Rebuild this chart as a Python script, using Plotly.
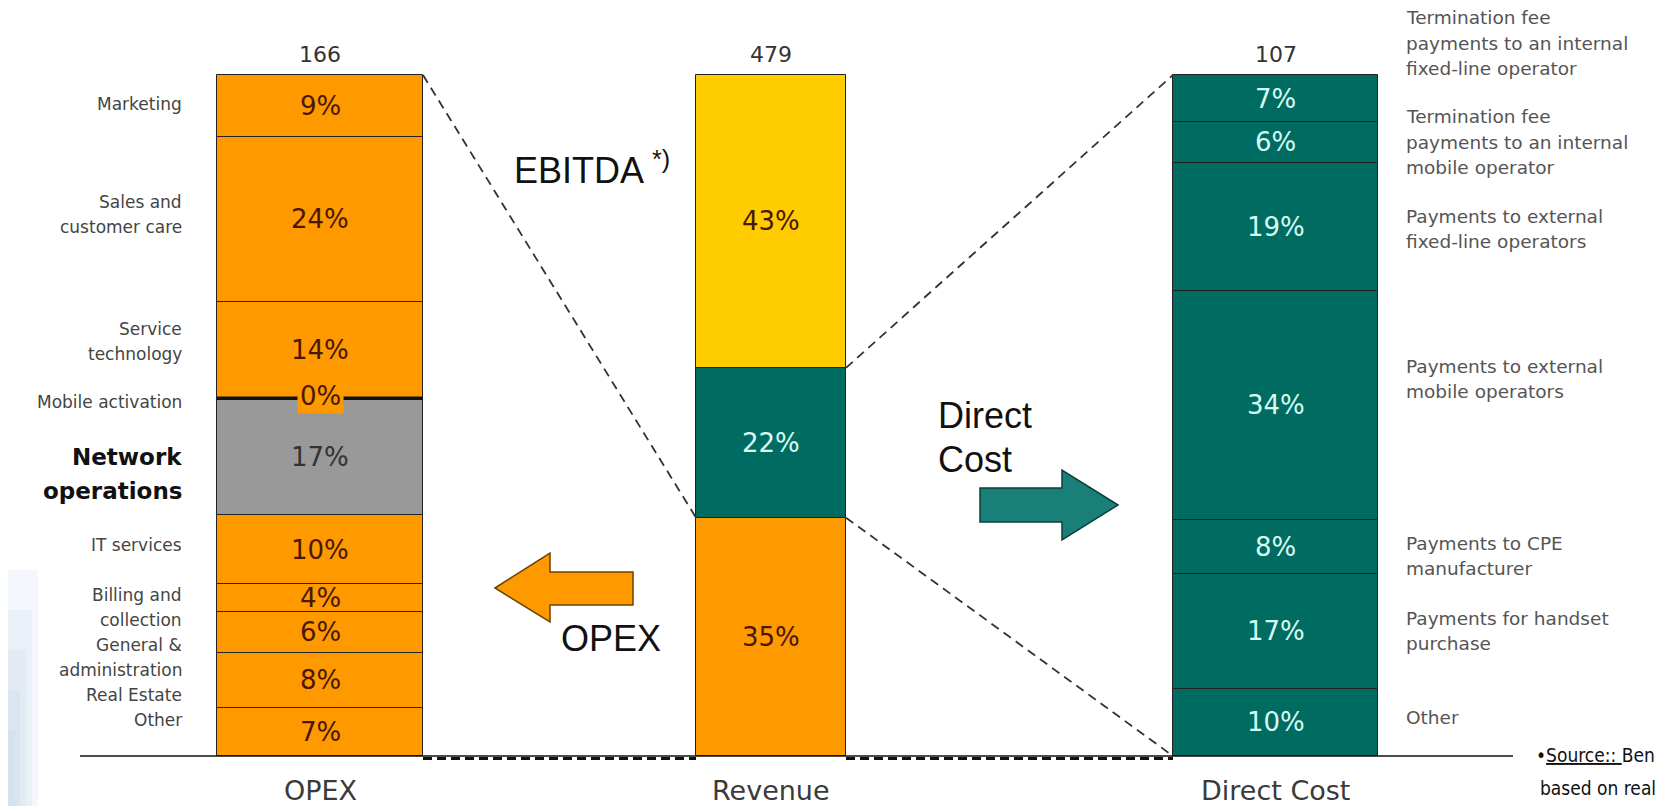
import plotly.graph_objects as go

# ---------------- data ----------------
categories = ["OPEX", "Revenue", "Direct Cost"]
totals = [166, 479, 107]

opex_items = ["Marketing", "Sales and<br>customer care", "Service<br>technology", "Mobile activation",
              "Network<br>operations", "IT services", "Billing and<br>collection",
              "General &<br>administration", "Real Estate", "Other"]
opex_pct = [9, 24, 14, 0, 17, 10, 4, 6, 8, 7]

revenue_items = ["EBITDA", "Direct Cost", "OPEX"]
revenue_pct = [43, 22, 35]

direct_items = ["Termination fee<br>payments to an internal<br>fixed-line operator",
                "Termination fee<br>payments to an internal<br>mobile operator",
                "Payments to external<br>fixed-line operators",
                "Payments to external<br>mobile operators",
                "Payments to CPE<br>manufacturer",
                "Payments for handset<br>purchase",
                "Other"]
direct_pct = [7, 6, 19, 34, 8, 17, 10]

# ---------------- style / layout ----------------
W, H = 1673, 806
OFF = 8                                  # page body margin of the html page
PX_TOP, PX_BASE = 75, 756
K = (PX_BASE - PX_TOP) / 100.0          # pixels per percent
BAR_X = {"OPEX": 320, "Revenue": 771, "Direct Cost": 1275.5}
BAR_W = {"OPEX": 206, "Revenue": 150, "Direct Cost": 205}

ORANGE = "#FF9900"
YELLOW = "#FFCC00"
TEAL = "#006B60"
GRAY = "#999999"
TXT_DARK = "#4a1800"
TXT_LIGHT = "#d6fbf4"

opex_colors = [ORANGE, ORANGE, ORANGE, ORANGE, GRAY, ORANGE, ORANGE, ORANGE, ORANGE, ORANGE]
revenue_colors = [YELLOW, TEAL, ORANGE]
direct_colors = [TEAL] * 7

# label placement (pixel y of first line)
opex_label_y = [104, 202, 329, 402, 457, 545, 595, 645, 695, 720]
direct_label_y = [18, 117, 217, 366, 543, 618, 717]

FONT = "DejaVu Sans, Verdana, sans-serif"
BIG = "Liberation Sans, Arial, sans-serif"


def Y(p):
    return (PX_BASE - p) / K


def px(x):
    return (x - OFF) / (W - OFF)


def py(y):
    return 1 - (y - OFF) / (H - OFF)


def segments(pcts):
    """return (share, bottom, top) per item, items listed top -> bottom"""
    tot = float(sum(pcts))
    shares = [p / tot * 100 for p in pcts]
    out = [None] * len(shares)
    base = 0.0
    for i in range(len(shares) - 1, -1, -1):
        out[i] = (shares[i], base, base + shares[i])
        base += shares[i]
    return out


fig = go.Figure()
annotations = []
shapes = []


def note(x, y, text, size, color, family=FONT, xanchor="center", **kw):
    d = dict(x=px(x), y=py(y), xref="paper", yref="paper", xanchor=xanchor, yanchor="middle",
             text=text, showarrow=False, font=dict(family=family, size=size, color=color))
    d.update(kw)
    annotations.append(d)


bars = [
    ("OPEX", opex_pct, opex_colors),
    ("Revenue", revenue_pct, revenue_colors),
    ("Direct Cost", direct_pct, direct_colors),
]
segs_by_cat = {}
for cat, pcts, cols in bars:
    segs = segments(pcts)
    segs_by_cat[cat] = segs
    cx, w = BAR_X[cat], BAR_W[cat]
    for i in range(len(pcts) - 1, -1, -1):
        share, b, t = segs[i]
        fig.add_trace(go.Bar(
            x=[cx], y=[share], base=[b], width=[w],
            marker=dict(color=cols[i], line=dict(color="#222222", width=1)),
            showlegend=False, hoverinfo="skip"))
        if pcts[i] == 0:
            shapes.append(dict(type="line", xref="x", yref="y", x0=cx - w / 2, x1=cx + w / 2,
                               y0=b, y1=b, line=dict(color="#111111", width=3.5)))
            annotations.append(dict(x=cx, y=b + 0.3, xref="x", yref="y", text=f"{pcts[i]}%",
                                    showarrow=False, bgcolor=cols[i], borderpad=2,
                                    yanchor="middle", xanchor="center",
                                    font=dict(family=FONT, size=26, color=TXT_DARK)))
            continue
        col = TXT_LIGHT if cols[i] == TEAL else ("#333333" if cols[i] == GRAY else TXT_DARK)
        annotations.append(dict(x=cx, y=(b + t) / 2, xref="x", yref="y", text=f"{pcts[i]}%",
                                showarrow=False, yanchor="middle", xanchor="center",
                                font=dict(family=FONT, size=26, color=col)))

# totals above bars and category names below
for cat, tot in zip(categories, totals):
    annotations.append(dict(x=BAR_X[cat], y=Y(54), xref="x", yref="y", text=str(tot),
                            showarrow=False, yanchor="middle", xanchor="center",
                            font=dict(family=FONT, size=22, color="#333333")))
    annotations.append(dict(x=BAR_X[cat], y=Y(790), xref="x", yref="y", text=cat,
                            showarrow=False, yanchor="middle", xanchor="center",
                            font=dict(family=FONT, size=27, color="#3a3a3a")))

# left (OPEX) labels
for name, y0 in zip(opex_items, opex_label_y):
    bold = name.startswith("Network")
    for j, line in enumerate(name.split("<br>")):
        note(184, y0 + j * (34 if bold else 25), f"<b>{line}</b>" if bold else line,
             23 if bold else 17, "#111111" if bold else "#444444", xanchor="right")

# right (Direct Cost) labels
for name, y0 in zip(direct_items, direct_label_y):
    for j, line in enumerate(name.split("<br>")):
        note(1404, y0 + j * 25, line, 18.5, "#555555", xanchor="left")

# connector dashed lines derived from the stacks
rv = segs_by_cat["Revenue"]
ol = BAR_X["OPEX"] + BAR_W["OPEX"] / 2
rl = BAR_X["Revenue"] - BAR_W["Revenue"] / 2
rr = BAR_X["Revenue"] + BAR_W["Revenue"] / 2
dl = BAR_X["Direct Cost"] - BAR_W["Direct Cost"] / 2
rev_opex_top = rv[2][2]
rev_dc_bottom, rev_dc_top = rv[1][1], rv[1][2]
dash = dict(color="#333333", width=1.8, dash="9px,6px")
for (x0, y0, x1, y1) in [(ol, 100, rl, rev_opex_top),
                         (rr, rev_dc_top, dl, 100),
                         (rr, rev_dc_bottom, dl, 0)]:
    fig.add_trace(go.Scatter(x=[x0, x1], y=[y0, y1], mode="lines", line=dash,
                             showlegend=False, hoverinfo="skip"))
for (x0, x1) in [(ol, rl), (rr, dl)]:
    fig.add_trace(go.Scatter(x=[x0, x1], y=[-0.35, -0.35], mode="lines",
                             line=dict(color="#111111", width=3, dash="9px,5px"),
                             showlegend=False, hoverinfo="skip"))

# baseline
shapes.append(dict(type="line", xref="x", yref="y", x0=80, x1=1513, y0=0, y1=0,
                   line=dict(color="#111111", width=1.6)))


# arrows
def path(pts):
    return "M " + " L ".join(f"{px(a):.5f},{py(b):.5f}" for a, b in pts) + " Z"


orange_arrow = [(495, 588), (550, 553), (550, 572), (633, 572), (633, 605), (550, 605), (550, 622)]
teal_arrow = [(1118, 505), (1062, 470), (1062, 488), (980, 488), (980, 522), (1062, 522), (1062, 540)]
shapes.append(dict(type="path", xref="paper", yref="paper", path=path(orange_arrow),
                   fillcolor=ORANGE, line=dict(color="#6b4200", width=1.5)))
shapes.append(dict(type="path", xref="paper", yref="paper", path=path(teal_arrow),
                   fillcolor="#1b7f79", line=dict(color="#0b3f3a", width=1.5)))

# big labels
note(512, 168, "EBITDA <sup>*)</sup>", 36, "#111111", family=BIG, xanchor="left")
note(936, 415, "Direct", 36, "#111111", family=BIG, xanchor="left")
note(936, 459, "Cost", 36, "#111111", family=BIG, xanchor="left")
note(559, 638, "OPEX", 36, "#111111", family=BIG, xanchor="left")

# source note
SRC = "DejaVu Sans Condensed, Liberation Sans Narrow, sans-serif"
note(1534, 755, "•<u>Source:: </u>Ben", 19, "#111111", family=SRC, xanchor="left")
note(1538, 788, "based on real", 19, "#111111", family=SRC, xanchor="left")

# faint blue decoration on the left edge
for w_, top in [(30, 570), (24, 610), (18, 650), (12, 690), (7, 730)]:
    shapes.append(dict(type="rect", xref="paper", yref="paper", x0=0, x1=px(w_ + OFF),
                       y0=0, y1=py(top), fillcolor="rgba(185,205,232,0.16)", line=dict(width=0),
                       layer="below"))

fig.update_layout(
    width=W - OFF, height=H - OFF, margin=dict(l=0, r=0, t=0, b=0),
    paper_bgcolor="white", plot_bgcolor="white",
    barmode="overlay", bargap=0,
    xaxis=dict(range=[OFF, W], visible=False, fixedrange=True),
    yaxis=dict(range=[Y(H), Y(OFF)], visible=False, fixedrange=True),
    shapes=shapes, annotations=annotations, showlegend=False,
)

fig.write_html("out.html")
